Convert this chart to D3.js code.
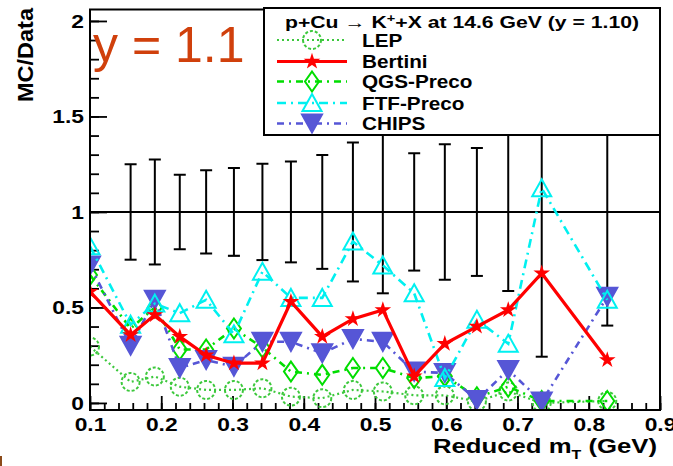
<!DOCTYPE html>
<html><head><meta charset="utf-8">
<script src="https://cdn.jsdelivr.net/npm/d3@7"></script>
<style>
body{margin:0;background:#fff}
svg{display:block}
text{font-family:"Liberation Sans",Arial,Helvetica,sans-serif}
</style>
</head><body>
<svg id="c" width="673" height="466"></svg>
<script>
// ---- data ----
const xValues = [0.100, 0.157, 0.191, 0.226, 0.263, 0.302, 0.342, 0.382, 0.426, 0.469, 0.511, 0.555, 0.598, 0.643, 0.687, 0.734, 0.826];
const dataErr = [null, 0.25, 0.275, 0.195, 0.218, 0.23, 0.252, 0.264, 0.298, 0.364, 0.426, 0.307, 0.355, 0.335, 0.414, 0.758, 0.595];
const lep     = [0.295, 0.11, 0.138, 0.085, 0.068, 0.068, 0.077, 0.033, 0.025, 0.068, 0.06, 0.04, 0.04, 0.008, 0.06, 0.0, 0.01];
const bertini = [0.583, 0.356, 0.461, 0.347, 0.25, 0.208, 0.208, 0.53, 0.347, 0.44, 0.487, 0.14, 0.31, 0.40, 0.487, 0.679, 0.225];
const qgs     = [0.67, 0.39, 0.50, 0.28, 0.28, 0.39, 0.29, 0.164, 0.147, 0.183, 0.183, 0.13, 0.14, 0.03, 0.085, 0.01, 0.01];
const ftf     = [0.82, 0.41, 0.52, 0.47, 0.54, 0.36, 0.687, 0.55, 0.55, 0.845, 0.72, 0.574, 0.13, 0.435, 0.31, 1.124, 0.54];
const chips   = [0.72, 0.30, 0.54, 0.183, 0.225, 0.19, 0.32, 0.32, 0.26, 0.335, 0.32, 0.164, 0.157, 0.016, 0.173, 0.007, 0.556];
const seriesNames = ["LEP", "Bertini", "QGS-Preco", "FTF-Preco", "CHIPS"];
const xTicks = [0.1, 0.2, 0.3, 0.4, 0.5, 0.6, 0.7, 0.8, 0.9];
const xTickLabels = ["0.1", "0.2", "0.3", "0.4", "0.5", "0.6", "0.7", "0.8", "0.9"];
const yTicks = [0, 0.5, 1, 1.5, 2];
const yTickLabels = ["0", "0.5", "1", "1.5", "2"];
const legendTitle = ["p+Cu \u2192 K", "+", "+X at 14.6 GeV (y = 1.10)"];
const xTitle = ["Reduced m", "T", " (GeV)"];
const yTitle = "MC/Data";
const note = "y = 1.1";

// ---- layout ----
const svg = d3.select("#c");
const fr = {l: 90, r: 660, t: 9.5, b: 410};
const x = d3.scaleLinear().domain([0.1, 0.9]).range([fr.l, fr.r]);
const y = d3.scaleLinear().domain([-0.037, 2.06]).range([fr.b, fr.t]);
const K = 1.2; // horizontal stretch of the reference's text

function stretch(sel, k) {
  sel.each(function () {
    const L = this.getComputedTextLength();
    this.setAttribute("textLength", L * k);
    this.setAttribute("lengthAdjust", "spacingAndGlyphs");
  });
}
function fitTo(sel, w) {
  sel.attr("textLength", w).attr("lengthAdjust", "spacingAndGlyphs");
}

svg.append("defs").append("clipPath").attr("id", "fc")
  .append("rect").attr("x", fr.l).attr("y", fr.t).attr("width", fr.r - fr.l).attr("height", fr.b - fr.t);

// ---- axes ----
const minorY = d3.range(0, 21).map(i => +(i * 0.1).toFixed(2));
const minorX = d3.range(0, 41).map(i => +(0.1 + i * 0.02).toFixed(3));

const gy = svg.append("g").attr("transform", `translate(${fr.l},0)`);
gy.append("g").call(d3.axisLeft(y).tickValues(minorY).tickSize(-9).tickFormat(""));
gy.append("g").call(d3.axisLeft(y).tickValues(yTicks).tickSize(-17).tickPadding(6)
  .tickFormat((d, i) => yTickLabels[i]));
gy.selectAll(".domain").remove();
gy.selectAll("line").attr("stroke", "#000").attr("stroke-width", 1.8);
gy.selectAll("text").attr("font-size", 19).attr("font-weight", "bold").attr("fill", "#000")
  .attr("font-family", "'Liberation Sans',Arial,sans-serif").call(stretch, K);

const gx = svg.append("g").attr("transform", `translate(0,${fr.b})`);
gx.append("g").call(d3.axisBottom(x).tickValues(minorX).tickSize(-7).tickFormat(""));
gx.append("g").call(d3.axisBottom(x).tickValues(xTicks).tickSize(-14).tickPadding(8)
  .tickFormat((d, i) => xTickLabels[i]));
gx.selectAll(".domain").remove();
gx.selectAll("line").attr("stroke", "#000").attr("stroke-width", 1.8);
gx.selectAll("text").attr("font-size", 19).attr("font-weight", "bold").attr("fill", "#000")
  .attr("font-family", "'Liberation Sans',Arial,sans-serif").call(stretch, K);

// ---- reference line & data error bars ----
const plot = svg.append("g").attr("clip-path", "url(#fc)");
plot.append("line").attr("x1", fr.l).attr("x2", fr.r).attr("y1", y(1)).attr("y2", y(1))
  .attr("stroke", "#000").attr("stroke-width", 2);

const eb = xValues.map((xv, i) => ({x: xv, e: dataErr[i]})).filter(d => d.e != null);
const ebG = plot.append("g").attr("stroke", "#000").attr("stroke-width", 2);
ebG.selectAll(".v").data(eb).join("line")
  .attr("x1", d => x(d.x)).attr("x2", d => x(d.x))
  .attr("y1", d => y(1 - d.e)).attr("y2", d => y(1 + d.e));
ebG.selectAll(".ct").data(eb).join("line")
  .attr("x1", d => x(d.x) - 6).attr("x2", d => x(d.x) + 6)
  .attr("y1", d => y(1 + d.e)).attr("y2", d => y(1 + d.e));
ebG.selectAll(".cb").data(eb).join("line")
  .attr("x1", d => x(d.x) - 6).attr("x2", d => x(d.x) + 6)
  .attr("y1", d => y(1 - d.e)).attr("y2", d => y(1 - d.e));

// ---- series ----
const tri = "M0,-9L9.5,8L-9.5,8Z";
const triDown = "M-10,-9L10,-9L0,9Z";
const diamond = "M0,-10L7,0L0,10L-7,0Z";
const star = d3.symbol().type(d3.symbolStar).size(34)();
const series = [
  {name: seriesNames[0], v: lep, color: "#3cc83c", width: 2.2, dash: "2,3", marker: "circle", fill: "none", mdash: "3,2"},
  {name: seriesNames[2], v: qgs, color: "#00dd00", width: 2.6, dash: "7,5,2,5", marker: diamond, fill: "none"},
  {name: seriesNames[4], v: chips, color: "#5656d6", width: 2.6, dash: "7,5,2,5", marker: triDown, fill: "#5656d6"},
  {name: seriesNames[3], v: ftf, color: "#00f0f0", width: 2.6, dash: "9,5,2,5", marker: tri, fill: "none"},
  {name: seriesNames[1], v: bertini, color: "#ff0000", width: 3.2, dash: null, marker: star, fill: "#ff0000"}
];
const line = d3.line().x((d, i) => x(xValues[i])).y(d => y(d));

function drawMarker(g, s, cx, cy) {
  if (s.marker === "circle") {
    g.append("circle").attr("cx", cx).attr("cy", cy).attr("r", 9)
      .attr("fill", "none").attr("stroke", s.color).attr("stroke-width", 2)
      .attr("stroke-dasharray", s.mdash);
  } else {
    g.append("path").attr("d", s.marker).attr("transform", `translate(${cx},${cy})`)
      .attr("fill", s.fill).attr("stroke", s.color).attr("stroke-width", 2);
  }
}

series.forEach(s => {
  const g = plot.append("g");
  g.append("path").datum(s.v).attr("d", line).attr("fill", "none")
    .attr("stroke", s.color).attr("stroke-width", s.width)
    .attr("stroke-dasharray", s.dash);
  s.v.forEach((v, i) => drawMarker(g, s, x(xValues[i]), y(v)));
});

// ---- frame ----
svg.append("rect").attr("x", fr.l).attr("y", fr.t).attr("width", fr.r - fr.l).attr("height", fr.b - fr.t)
  .attr("fill", "none").attr("stroke", "#000").attr("stroke-width", 2);

// ---- legend ----
const lg = svg.append("g");
lg.append("rect").attr("x", 264).attr("y", 8).attr("width", 396).attr("height", 127)
  .attr("fill", "#fff").attr("stroke", "#000").attr("stroke-width", 2);
const lt = lg.append("text").attr("x", 462).attr("y", 28).attr("text-anchor", "middle")
  .attr("font-size", 16).attr("font-weight", "bold");
lt.append("tspan").text(legendTitle[0]);
lt.append("tspan").attr("dy", -6).attr("font-size", 11).text(legendTitle[1]);
lt.append("tspan").attr("dy", 6).text(legendTitle[2]);
fitTo(lt, 354);

const legendOrder = [series[0], series[4], series[1], series[3], series[2]];
const rowY = [40, 61.5, 81.5, 103, 123.5];
legendOrder.forEach((s, i) => {
  const g = lg.append("g");
  g.append("line").attr("x1", 277).attr("x2", 347).attr("y1", rowY[i]).attr("y2", rowY[i])
    .attr("stroke", s.color).attr("stroke-width", s.width).attr("stroke-dasharray", s.dash);
  drawMarker(g, s, 312, rowY[i]);
  g.append("text").attr("x", 362).attr("y", rowY[i] + 6.5).attr("font-size", 18)
    .attr("font-weight", "bold").text(s.name).call(stretch, 1.15);
});

// ---- titles ----
const xt = svg.append("text").attr("x", 657).attr("y", 453).attr("text-anchor", "end")
  .attr("font-size", 21).attr("font-weight", "bold");
xt.append("tspan").text(xTitle[0]);
xt.append("tspan").attr("dy", 6).attr("font-size", 13).text(xTitle[1]);
xt.append("tspan").attr("dy", -6).text(xTitle[2]);
fitTo(xt, 224);

svg.append("text").attr("transform", "translate(33,8) rotate(-90)").attr("text-anchor", "end")
  .attr("font-size", 22).attr("font-weight", "bold").text(yTitle).call(fitTo, 94);

svg.append("text").attr("x", 93).attr("y", 62).attr("font-size", 50)
  .attr("fill", "#d0400c").text(note);

// small mark at the bottom-left corner of the reference
svg.append("rect").attr("x", 0).attr("y", 456).attr("width", 2).attr("height", 10).attr("fill", "#8b4a1a");
</script>
</body></html>
